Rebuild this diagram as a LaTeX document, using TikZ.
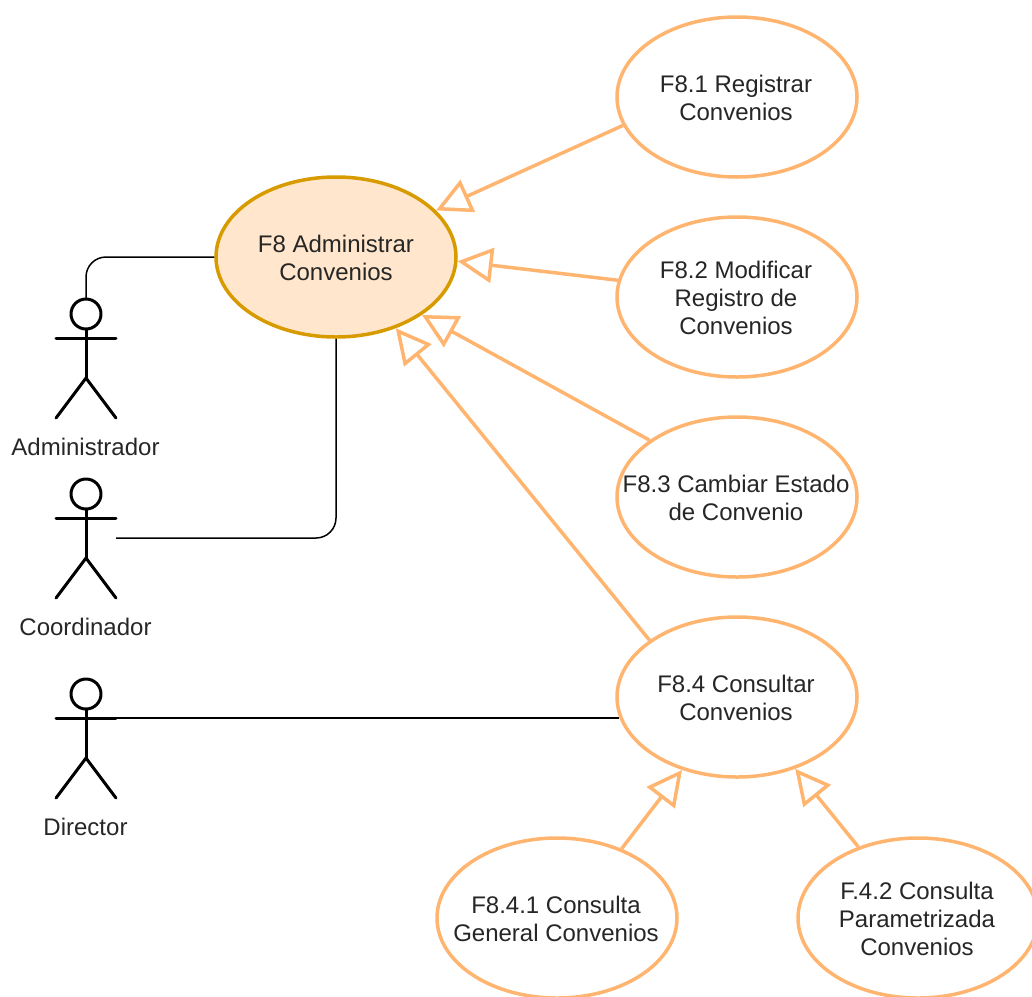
\documentclass[tikz,border=0pt]{standalone}
\usepackage{fontspec}
\setmainfont{Liberation Sans}
\usetikzlibrary{arrows.meta, positioning, shapes.geometric}
\definecolor{caseline}{HTML}{FFB570}
\definecolor{mainline}{HTML}{D79B00}
\definecolor{mainfill}{HTML}{FFE6CC}

% one actor: name, x of the body, y of the head, label
\newcommand{\actor}[4]{
  \node[actorbox] (#1) at (#2,#3+44) {};
  \coordinate (#1-arm) at (#2+30,#3+24);
  \draw[actorline] (#2-30,#3+24) -- (#1-arm);
  \draw[actorline] (#2,#3+15) -- (#2,#3+64);
  \draw[actorline] (#2-30,#3+104) -- (#2,#3+64) -- (#2+30,#3+104);
  \draw[actorline, fill=white] (#2,#3) circle (15);
  \node[casetext] (#1-label) at (#2-0.5,#3+132.5) {#4};
}

\begin{document}
\begin{tikzpicture}[
    x=1pt, y=-1pt,
    casetext/.style = {align=center, inner sep=0pt, text=black!85,
      font=\fontsize{24}{28}\selectfont},
    usecase/.style = {ellipse, draw=caseline, line width=3.5pt, fill=white,
      minimum width=240pt, minimum height=160pt, inner sep=0pt},
    maincase/.style = {usecase, draw=mainline, fill=mainfill},
    actorbox/.style = {rectangle, minimum width=60pt, minimum height=120pt, inner sep=0pt},
    actorline/.style = {line width=3pt, line cap=round, line join=round, black},
    assoc/.style = {line width=1.5pt, black, rounded corners=20pt},
    extends/.style = {line width=3.5pt, caseline,
      -{Triangle[open, length=35pt, width=35pt]}}
  ]
  \useasboundingbox (0,0) rectangle (1032,996);

  \node[maincase] (f8) at (336,257) {};
  \node[casetext] (f8-text) at (336,258) {F8 Administrar\\Convenios};

  \foreach \name/\px/\py/\txt in {
      f81/737/97/{F8.1 Registrar\\Convenios},
      f82/737/297/{F8.2 Modificar\\Registro de\\Convenios},
      f83/737/497/{F8.3 Cambiar Estado\\de Convenio},
      f84/737/697/{F8.4 Consultar\\Convenios},
      f841/557/918/{F8.4.1 Consulta\\General Convenios},
      f842/918/918/{F.4.2 Consulta\\Parametrizada\\Convenios}} {
    \node[usecase] (\name) at (\px,\py) {};
    \node[casetext] (\name-text) at (\px-1,\py+1) {\txt};
  }

  \actor{admin}{86}{314}{Administrador}
  \actor{coord}{86}{494}{Coordinador}
  \actor{direc}{86}{694}{Director}

  \draw[assoc] (admin.north) |- (f8.west);
  \draw[assoc] (coord.east) -| (f8.south);
  \draw[assoc] (direc-arm) -- (direc-arm -| f84.190);

  \foreach \from/\fromang/\to/\toang in {
      f81/194/f8/25, f82/172/f8/358, f83/147/f8/326, f84/147/f8/310,
      f841/47.5/f84/233, f842/130/f84/309} {
    \draw[extends] (\from.\fromang) -- (\to.\toang);
  }
\end{tikzpicture}
\end{document}
